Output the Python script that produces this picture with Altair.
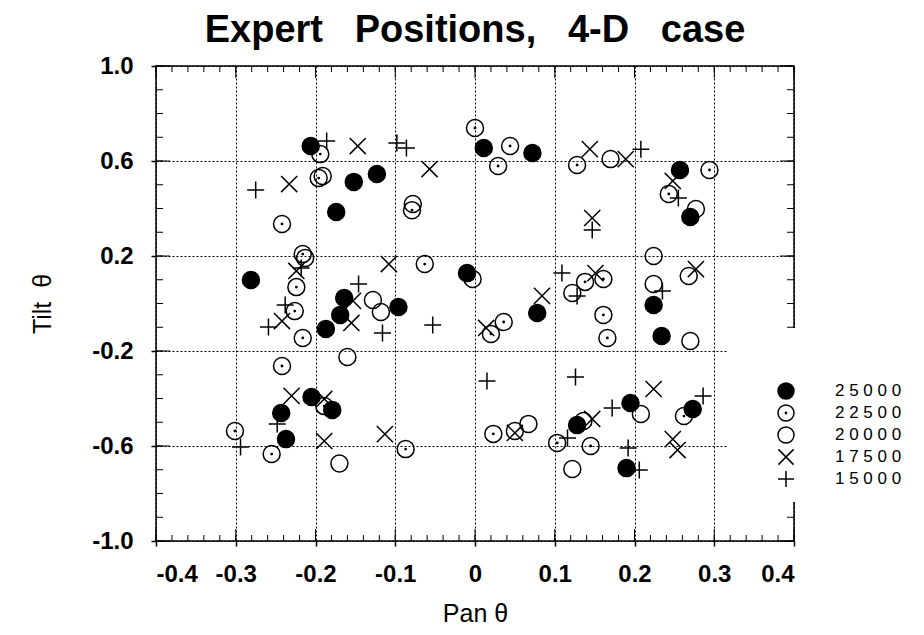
import altair as alt
import pandas as pd
import numpy as np

# ---------------- data ----------------
series_labels = ["25000", "22500", "20000", "17500", "15000"]

x_25000 = [-0.206, -0.152, -0.123, -0.174, 0.011, 0.072, 0.257, 0.270, -0.281, -0.010,
           -0.164, -0.096, -0.169, -0.187, 0.078, 0.224, 0.234, -0.205, -0.243, -0.237,
           -0.179, 0.128, 0.195, 0.273, 0.190]
y_25000 = [0.663, 0.512, 0.545, 0.385, 0.655, 0.634, 0.562, 0.364, 0.099, 0.128,
           0.023, -0.015, -0.048, -0.107, -0.040, -0.006, -0.137, -0.394, -0.461, -0.571,
           -0.448, -0.512, -0.419, -0.444, -0.693]

x_22500 = [-0.242, -0.194, -0.196, -0.079, 0.000, 0.044, 0.029, 0.128, 0.294, 0.243,
           -0.216, -0.224, -0.226, -0.216, -0.242, -0.063, -0.003, 0.138, 0.161, 0.020,
           0.036, 0.161, 0.166, -0.301, -0.255, -0.189, -0.087, 0.023, 0.136, 0.103,
           0.145, 0.262]
y_22500 = [0.335, 0.629, 0.528, 0.393, 0.739, 0.663, 0.579, 0.583, 0.562, 0.461,
           0.208, 0.069, -0.032, -0.145, -0.263, 0.166, 0.103, 0.091, 0.103, -0.128,
           -0.078, -0.048, -0.145, -0.537, -0.634, -0.432, -0.613, -0.549, -0.495, -0.587,
           -0.600, -0.474]

x_20000 = [-0.191, -0.078, 0.170, 0.277, -0.213, -0.128, -0.118, -0.160, 0.122, 0.224,
           0.268, 0.224, 0.270, -0.170, 0.050, 0.067, 0.208, 0.122]
y_20000 = [0.537, 0.419, 0.608, 0.398, 0.192, 0.015, -0.036, -0.225, 0.044, 0.200,
           0.116, 0.082, -0.158, -0.674, -0.537, -0.507, -0.465, -0.697]

x_17500 = [-0.233, -0.147, -0.057, 0.144, 0.147, 0.189, 0.248, -0.224, -0.242, -0.108,
           -0.153, -0.155, 0.151, 0.084, 0.014, 0.277, -0.230, -0.189, -0.189, -0.113,
           0.050, 0.147, 0.224, 0.248, 0.254]
y_17500 = [0.503, 0.663, 0.566, 0.650, 0.360, 0.608, 0.516, 0.137, -0.074, 0.166,
           0.011, -0.082, 0.128, 0.032, -0.103, 0.145, -0.389, -0.402, -0.579, -0.550,
           -0.545, -0.486, -0.360, -0.571, -0.617]

x_15000 = [-0.275, -0.186, -0.098, -0.086, 0.147, 0.208, 0.255, -0.218, -0.238, -0.259,
           -0.146, -0.116, -0.053, 0.109, 0.128, 0.235, 0.126, 0.015, -0.248, -0.294,
           0.172, 0.116, 0.286, 0.192, 0.206]
y_15000 = [0.478, 0.684, 0.676, 0.655, 0.309, 0.650, 0.444, 0.149, -0.006, -0.099,
           0.082, -0.124, -0.091, 0.128, 0.032, 0.053, -0.309, -0.326, -0.507, -0.604,
           -0.440, -0.566, -0.389, -0.608, -0.701]

x_ticks = [-0.4, -0.3, -0.2, -0.1, 0.0, 0.1, 0.2, 0.3, 0.4]
y_ticks = [-1.0, -0.6, -0.2, 0.2, 0.6, 1.0]
x_minor = [round(v, 3) for v in np.arange(-0.4, 0.4001, 0.02)]
y_minor = [round(v, 3) for v in np.arange(-1.0, 1.0001, 0.1)]

# ---------------- build table ----------------
xs_all = [x_25000, x_22500, x_20000, x_17500, x_15000]
ys_all = [y_25000, y_22500, y_20000, y_17500, y_15000]
rows = []
for lab, xs, ys in zip(series_labels, xs_all, ys_all):
    for xv, yv in zip(xs, ys):
        rows.append({"pan": xv, "tilt": yv, "series": lab})
df = pd.DataFrame(rows)

W, H = 638, 475
FONT = "Liberation Sans"
SPACED = "join(split(datum.label, ''), ' ')"
HYPHEN = "replace(datum.label, '\u2212', '-')"

xscale = alt.Scale(domain=[-0.4, 0.4], nice=False, zero=False)
yscale = alt.Scale(domain=[-1.0, 1.0], nice=False, zero=False)
xaxis = alt.Axis(values=x_ticks, title="Pan\u00a0θ", grid=True, format=".1~f",
                 labelOverlap=False, labelFlush=True, labelExpr=HYPHEN)
yaxis = alt.Axis(values=y_ticks, title="Tilt\u00a0\u00a0θ", grid=True, format=".1f",
                 labelOverlap=False, labelExpr=HYPHEN)

circle_path = "M1,0A1,1,0,1,1,-1,0A1,1,0,1,1,1,0Z"
dot_circle_path = circle_path + "M0.08,0A0.08,0.08,0,1,1,-0.08,0A0.08,0.08,0,1,1,0.08,0Z"
x_path = "M-0.95,-0.95L0.95,0.95M-0.95,0.95L0.95,-0.95"
plus_path = "M-1,0L1,0M0,-1L0,1"
shape_range = [circle_path, dot_circle_path, circle_path, x_path, plus_path]
fill_range = ["black", "transparent", "transparent", "transparent", "transparent"]
stroke_range = ["black"] * 5

legend = alt.Legend(
    title=None, orient="none", legendX=585, legendY=310,
    padding=6, symbolOffset=30, symbolSize=256, symbolStrokeWidth=1.5,
    labelFont=FONT, labelFontSize=17,
    labelColor="black", labelOffset=40, rowPadding=0,
    labelExpr=SPACED,
)

points = alt.Chart(df).mark_point(size=289, strokeWidth=1.5, opacity=1).encode(
    x=alt.X("pan:Q", scale=xscale, axis=xaxis),
    y=alt.Y("tilt:Q", scale=yscale, axis=yaxis),
    shape=alt.Shape("series:N", scale=alt.Scale(domain=series_labels, range=shape_range), legend=legend),
    fill=alt.Fill("series:N", scale=alt.Scale(domain=series_labels, range=fill_range), legend=legend),
    stroke=alt.Stroke("series:N", scale=alt.Scale(domain=series_labels, range=stroke_range), legend=legend),
    order=alt.Order("series:N", sort="descending"),
)

# white patch behind the legend
patch = alt.Chart(pd.DataFrame({"a": [0]})).mark_rect(fill="white").encode(
    x=alt.value(572), x2=alt.value(760), y=alt.value(262), y2=alt.value(436)
)

def ticks_x(vals, length):
    d = pd.DataFrame({"v": vals})
    top = alt.Chart(d).mark_rule(color="black", strokeWidth=1).encode(
        x=alt.X("v:Q", scale=xscale, axis=xaxis), y=alt.value(0), y2=alt.value(length))
    bot = alt.Chart(d).mark_rule(color="black", strokeWidth=1).encode(
        x=alt.X("v:Q", scale=xscale, axis=xaxis), y=alt.value(H), y2=alt.value(H - length))
    return [top, bot]

def ticks_y(vals, length):
    d = pd.DataFrame({"v": vals})
    left = alt.Chart(d).mark_rule(color="black", strokeWidth=1).encode(
        y=alt.Y("v:Q", scale=yscale, axis=yaxis), x=alt.value(0), x2=alt.value(length))
    right = alt.Chart(d).mark_rule(color="black", strokeWidth=1).encode(
        y=alt.Y("v:Q", scale=yscale, axis=yaxis), x=alt.value(W), x2=alt.value(W - length))
    return [left, right]

layers = ticks_x(x_minor, 6) + ticks_x(x_ticks, 12) + ticks_y(y_minor, 7) + ticks_y(y_ticks, 14)

title_text = "Expert\u00a0\u00a0\u00a0Positions,\u00a0\u00a0\u00a04-D\u00a0\u00a0\u00a0case"

chart = alt.layer(*layers, patch, points).properties(
    width=W, height=H,
    title=alt.Title(title_text, font=FONT, fontSize=38, fontWeight="bold",
                    anchor="middle", offset=4, color="black"),
    autosize=alt.AutoSizeParams(type="none"),
    padding={"left": 148, "top": 58, "right": 118, "bottom": 86},
).configure_view(
    stroke="black", strokeWidth=1.5,
).configure_axis(
    domain=False, tickSize=5, tickColor="black", tickWidth=1.5,
    gridColor="black", gridDash=[2, 2], gridWidth=1, gridOpacity=1,
    labelFont=FONT, labelFontSize=24, labelColor="black", labelFontWeight="bold",
    titleFont=FONT, titleFontSize=25, titleFontWeight="normal", titleColor="black",
).configure_axisX(
    labelPadding=16, titlePadding=15,
).configure_axisY(
    labelPadding=18, titlePadding=36,
)

chart.save("out.html", embed_options={"renderer": "svg", "actions": False})
